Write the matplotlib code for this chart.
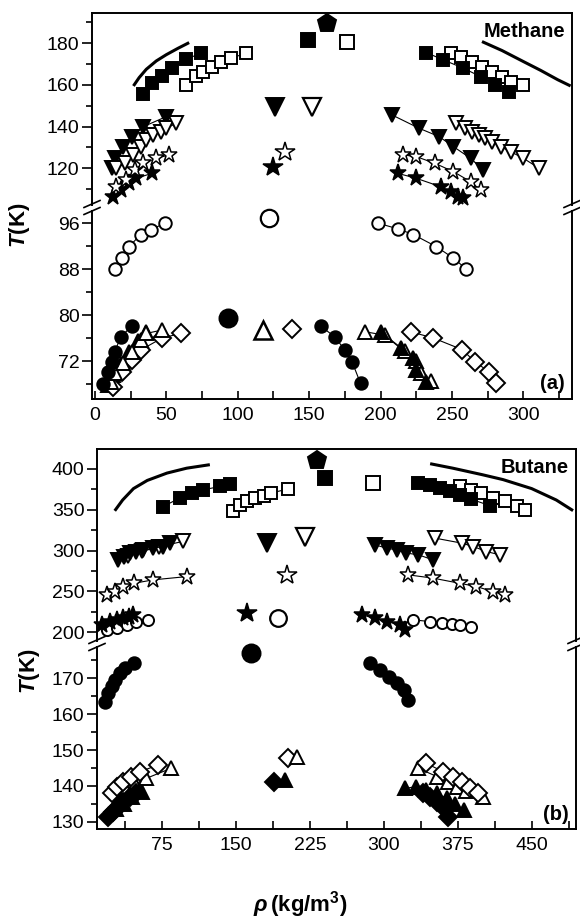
import matplotlib
matplotlib.use("Agg")
import matplotlib.pyplot as plt
from matplotlib.lines import Line2D

plt.rcParams['font.family'] = ['Liberation Sans', 'DejaVu Sans']
plt.rcParams['mathtext.fontset'] = 'custom'
plt.rcParams['mathtext.rm'] = 'Liberation Sans:bold'
plt.rcParams['mathtext.bf'] = 'Liberation Sans:bold'
plt.rcParams['mathtext.it'] = 'Liberation Sans:bold:italic'

# ---------------- Methane, upper part ----------------
ma_curve_L = ([27, 31, 36, 43, 50, 58, 66], [159.5, 163.5, 167.5, 171.5, 174.5, 177.5, 180.3])
ma_curve_R = ([271, 285, 300, 312, 324, 333], [180.8, 176.5, 171.2, 167, 162.5, 159.5])
ma_fsq_L = ([34, 40, 47, 54, 64, 74], [155.7, 160.8, 164.3, 168, 172.3, 175.2])
ma_osq_L = ([64, 71, 76, 82, 88, 95, 106], [160, 164.3, 166.4, 168.8, 171.2, 172.8, 175.2])
ma_fsq_R = ([232, 244, 258, 270, 280, 290], [175.5, 172, 168, 164, 160, 156.8])
ma_osq_R = ([249, 256, 264, 271, 278, 285, 291, 300], [175.2, 173.6, 171.2, 168.8, 166.4, 164, 161.6, 160])
ma_fv_L = ([12, 14, 20, 26, 34, 50], [120, 124.8, 130.4, 135.2, 140, 144.8])
ma_ov_L = ([15, 21, 27, 32, 36, 41, 46, 50, 57], [120, 122.4, 126.4, 130.4, 133.6, 136, 137.6, 139.2, 141.6])
ma_fv_R = ([208, 227, 241, 251, 263, 272], [145.6, 139.2, 135.2, 130.4, 124.8, 119.2])
ma_ov_R = ([253, 259, 264, 269, 273, 278, 284, 291, 300, 311],
           [141.6, 139.2, 137.6, 136, 134.4, 132.8, 130.4, 128, 124.8, 120])
ma_ostar_L = ([15, 22, 28, 34, 43, 52], [111.2, 114.4, 119.2, 122.4, 124.8, 126.4])
ma_fstar_L = ([13, 18, 24, 29, 40], [106.4, 109.6, 112.8, 115.2, 117.6])
ma_ostar_R = ([216, 225, 238, 251, 263, 270], [126.4, 125.6, 122.4, 118.4, 113.6, 109.6])
ma_fstar_R = ([212, 225, 242, 249, 254, 258], [117.6, 115.2, 111.2, 108.8, 106.4, 105.6])
# critical points (methane, upper)
ma_fsq_C = ([149.5], [181.6])
ma_pent_C = ([162.3], [189.6])
ma_osq_C = ([176.4], [180.8])
ma_fv_C = ([126], [149.6])
ma_ov_C = ([152], [149.6])
ma_fstar_C = ([125], [120.8])
ma_ostar_C = ([133], [128])

# ---------------- Methane, lower part ----------------
ma_oc_L = ([14, 19, 24, 32, 39, 49], [88, 89.9, 91.9, 94, 94.8, 96])
ma_oc_R = ([198, 212, 223, 239, 251, 260], [96, 95, 94, 91.9, 89.9, 88])
ma_ft_L = ([9, 13, 18, 24, 30, 36], [67.8, 69.5, 71.5, 73.5, 75.5, 77])
ma_ot_L = ([11, 14, 20, 26, 32, 36, 47], [68.4, 69.9, 71.6, 73.6, 75.7, 76.8, 77.4])
ma_od_L = ([13, 19, 26, 32, 47, 60], [67.5, 70.1, 72.2, 73.9, 76, 76.8])
ma_fc_L = ([6, 9.5, 12, 14, 18, 26], [68, 70.1, 71.9, 73.6, 76.2, 78.1])
ma_fc_R = ([158, 168, 175, 180, 186], [78.1, 76.2, 73.9, 71.9, 68.1])
ma_ot_R = ([189, 203, 217, 225, 228, 235], [77.1, 76.5, 73.8, 72, 70, 68.5])
ma_ft_R = ([200, 214, 223, 225, 232], [77.1, 74.2, 72.5, 70.4, 68.4])
ma_od_R = ([221, 237, 257, 266, 276, 281], [77.1, 76, 74, 71.9, 70.1, 68.1])
ma_oc_C = ([122], [96.9])
ma_fc_C = ([93], [79.5])
ma_ot_C = ([118], [77.4])
ma_od_C = ([138], [77.5])

# ---------------- Butane, upper part ----------------
bu_curve_L = ([27, 35, 46, 60, 80, 100, 123.5], [348.8, 362, 376, 386, 395, 401, 405.3])
bu_curve_R = ([347, 370, 400, 421, 450, 475, 492], [406.5, 401, 393, 387, 376, 362, 349])
bu_fsq_L = ([76, 93, 105, 117, 134, 144], [354, 364.4, 370.6, 374.6, 378.6, 381.6])
bu_osq_L = ([147, 154, 161, 169, 178, 186, 202.5], [348.8, 356.2, 360.2, 364.4, 367.2, 370.6, 375.5])
bu_fsq_R = ([335, 347, 357, 367, 377, 388, 408], [382.8, 380.7, 376.6, 372.5, 368.4, 363.2, 355])
bu_osq_R = ([377, 388, 399, 411, 423, 435, 443], [378.6, 374.6, 370.6, 364.4, 360.2, 354.1, 350])
bu_ov_L = ([40, 55, 72, 96], [293, 299, 305, 311.2])
bu_fv_L = ([30, 36, 42, 49, 56, 66, 76, 83], [288.7, 292.8, 296.9, 298.9, 301, 303, 305, 309.2])
bu_fv_R = ([291, 303, 313, 323, 335, 350], [307.1, 303, 301, 297, 294.9, 288.7])
bu_ov_R = ([352, 379, 391, 404, 418], [315.3, 309.2, 305, 298.9, 294.8])
bu_ostar_L = ([19, 27, 35.5, 47, 66, 100], [245.8, 249.8, 256, 260.1, 264.2, 268.2])
bu_ostar_R = ([325, 350, 377, 394, 411, 423], [270.3, 266.3, 260, 256, 249.8, 245.8])
bu_oc_L = ([19, 29, 39, 49, 61], [203, 205, 209, 213, 215])
bu_fstar_L = ([14, 22, 29, 35.5, 41, 46], [209, 213.1, 215.2, 217.2, 219.3, 221.3])
bu_fstar_R = ([277.5, 291, 303, 316.5, 322], [221.3, 217.2, 213.1, 209, 203])
bu_oc_R = ([330, 347, 359, 369, 377, 388], [215.2, 213.1, 211.1, 210.2, 209, 207])
bu_pent_C = ([232], [411.4])
bu_fsq_C = ([240], [389])
bu_osq_C = ([289], [383])
bu_fv_C = ([181], [309])
bu_ov_C = ([220], [317])
bu_ostar_C = ([202], [270])
bu_fstar_C = ([161], [223])
bu_oc_C = ([193], [217])

# ---------------- Butane, lower part ----------------
bu_fc_L = ([17, 20, 24, 27, 32, 37, 47], [163.5, 165.8, 167.7, 169.5, 171.4, 172.8, 174.2])
bu_fc_R = ([286, 296, 305, 313, 320, 325], [174.2, 172.3, 170.4, 168.6, 166.7, 164])
bu_od_L = ([24, 29, 35.5, 44, 52.5, 71], [137.9, 139.8, 141.2, 142.6, 144, 145.8])
bu_ot_L = ([38, 48, 59, 84], [139, 140.5, 142.1, 144.9])
bu_ft_L = ([28, 36, 45, 55], [133.5, 135, 136.8, 138.3])
bu_fd_L = ([20, 25, 30, 35.5, 42, 49], [131.4, 132.8, 134.2, 135.6, 137, 137.9])
bu_ot_R = ([335, 354, 365.5, 374, 383, 401], [144.9, 142.6, 141.2, 139.8, 138.5, 137])
bu_od_R = ([343, 360, 370, 379, 387.5, 396], [146.3, 144, 142.6, 141.2, 139.4, 138])
bu_ft_R = ([321, 333, 343, 354, 364, 372, 381], [139.3, 139.8, 138.8, 137.9, 136.5, 135.1, 133.3])
bu_fd_R = ([340, 347, 354, 360, 365], [137.9, 137, 135.6, 134.2, 131.4])
bu_fc_C = ([165], [177.1])
bu_fd_C = ([189], [141.2])
bu_ft_C = ([199.5], [141.6])
bu_od_C = ([203], [147.7])
bu_ot_C = ([212], [148])

W, H = 580, 924
fig = plt.figure(figsize=(W / 100, H / 100), dpi=100)


def box(l, t, r, b):
    return [l / W, 1 - b / H, (r - l) / W, (b - t) / H]


a_top = fig.add_axes(box(92, 13, 572, 205))
a_bot = fig.add_axes(box(92, 211, 572, 399))
b_top = fig.add_axes(box(97, 449, 576, 641))
b_bot = fig.add_axes(box(97, 647, 576, 829))

SQ, TRI, STAR, CIR, DIA = 8.5, 10, 12.5, 9, 9.5


def pts(ax, s, m, filled, ms=SQ, line=True, mew=1.4):
    ax.plot(s[0], s[1], marker=m, ms=ms, mfc='black' if filled else 'white',
            mec='black', mew=mew, color='black', lw=0.8,
            ls='-' if line else 'none', clip_on=False)


def curve(ax, s):
    ax.plot(s[0], s[1], color='black', lw=2.2, solid_capstyle='butt')


# methane upper
curve(a_top, ma_curve_L)
curve(a_top, ma_curve_R)
pts(a_top, ma_osq_L, 's', False)
pts(a_top, ma_fsq_L, 's', True)
pts(a_top, ma_osq_R, 's', False)
pts(a_top, ma_fsq_R, 's', True)
pts(a_top, ma_fv_L, 'v', True, ms=TRI)
pts(a_top, ma_ov_L, 'v', False, ms=TRI)
pts(a_top, ma_ov_R, 'v', False, ms=TRI)
pts(a_top, ma_fv_R, 'v', True, ms=TRI)
pts(a_top, ma_fstar_L, '*', True, ms=STAR, mew=1.1)
pts(a_top, ma_ostar_L, '*', False, ms=STAR, mew=1.1)
pts(a_top, ma_fstar_R, '*', True, ms=STAR, mew=1.1)
pts(a_top, ma_ostar_R, '*', False, ms=STAR, mew=1.1)
pts(a_top, ma_fsq_C, 's', True, ms=9.5, line=False)
pts(a_top, ma_pent_C, 'p', True, ms=13.5, line=False)
pts(a_top, ma_osq_C, 's', False, ms=10, line=False)
pts(a_top, ma_fv_C, 'v', True, ms=13, line=False)
pts(a_top, ma_ov_C, 'v', False, ms=13, line=False, mew=1.6)
pts(a_top, ma_fstar_C, '*', True, ms=15, line=False, mew=1.1)
pts(a_top, ma_ostar_C, '*', False, ms=15, line=False, mew=1.1)

# methane lower
pts(a_bot, ma_oc_L, 'o', False, ms=CIR)
pts(a_bot, ma_oc_R, 'o', False, ms=CIR)
pts(a_bot, ma_ft_L, '^', True, ms=TRI)
pts(a_bot, ma_od_L, 'D', False, ms=DIA)
pts(a_bot, ma_ot_L, '^', False, ms=TRI)
pts(a_bot, ma_fc_L, 'o', True, ms=CIR)
pts(a_bot, ma_fc_R, 'o', True, ms=CIR)
pts(a_bot, ma_ot_R, '^', False, ms=TRI)
pts(a_bot, ma_ft_R, '^', True, ms=TRI)
pts(a_bot, ma_od_R, 'D', False, ms=DIA)
pts(a_bot, ma_oc_C, 'o', False, ms=12.5, line=False, mew=1.6)
pts(a_bot, ma_fc_C, 'o', True, ms=13, line=False)
pts(a_bot, ma_ot_C, '^', False, ms=13, line=False, mew=1.8)
pts(a_bot, ma_od_C, 'D', False, ms=DIA, line=False)

# butane upper
curve(b_top, bu_curve_L)
curve(b_top, bu_curve_R)
pts(b_top, bu_fsq_L, 's', True)
pts(b_top, bu_osq_L, 's', False)
pts(b_top, bu_osq_R, 's', False)
pts(b_top, bu_fsq_R, 's', True)
pts(b_top, bu_ov_L, 'v', False, ms=TRI)
pts(b_top, bu_fv_L, 'v', True, ms=TRI)
pts(b_top, bu_fv_R, 'v', True, ms=TRI)
pts(b_top, bu_ov_R, 'v', False, ms=TRI)
pts(b_top, bu_ostar_L, '*', False, ms=STAR, mew=1.1)
pts(b_top, bu_ostar_R, '*', False, ms=STAR, mew=1.1)
pts(b_top, bu_oc_L, 'o', False, ms=8)
pts(b_top, bu_fstar_L, '*', True, ms=STAR, mew=1.1)
pts(b_top, bu_oc_R, 'o', False, ms=8)
pts(b_top, bu_fstar_R, '*', True, ms=STAR, mew=1.1)
pts(b_top, bu_pent_C, 'p', True, ms=13.5, line=False)
pts(b_top, bu_fsq_C, 's', True, ms=9.5, line=False)
pts(b_top, bu_osq_C, 's', False, ms=10, line=False)
pts(b_top, bu_fv_C, 'v', True, ms=13, line=False)
pts(b_top, bu_ov_C, 'v', False, ms=13, line=False, mew=1.6)
pts(b_top, bu_ostar_C, '*', False, ms=15, line=False, mew=1.1)
pts(b_top, bu_fstar_C, '*', True, ms=15, line=False, mew=1.1)
pts(b_top, bu_oc_C, 'o', False, ms=12, line=False, mew=1.6)

# butane lower
pts(b_bot, bu_fc_L, 'o', True, ms=CIR)
pts(b_bot, bu_fc_R, 'o', True, ms=CIR)
pts(b_bot, bu_ot_L, '^', False, ms=TRI)
pts(b_bot, bu_od_L, 'D', False, ms=DIA)
pts(b_bot, bu_ft_L, '^', True, ms=TRI)
pts(b_bot, bu_fd_L, 'D', True, ms=DIA)
pts(b_bot, bu_ot_R, '^', False, ms=TRI)
pts(b_bot, bu_od_R, 'D', False, ms=DIA)
pts(b_bot, bu_ft_R, '^', True, ms=TRI)
pts(b_bot, bu_fd_R, 'D', True, ms=DIA)
pts(b_bot, bu_fc_C, 'o', True, ms=13, line=False)
pts(b_bot, bu_fd_C, 'D', True, ms=DIA, line=False)
pts(b_bot, bu_ft_C, '^', True, ms=TRI, line=False)
pts(b_bot, bu_od_C, 'D', False, ms=DIA, line=False)
pts(b_bot, bu_ot_C, '^', False, ms=TRI, line=False)

# axes limits and ticks
a_top.set_ylim(102.4, 194.5)
a_bot.set_ylim(65.4, 98.1)
b_top.set_ylim(189.3, 424.5)
b_bot.set_ylim(128.0, 178.7)
for ax in (a_top, a_bot):
    ax.set_xlim(-2, 334)
for ax in (b_top, b_bot):
    ax.set_xlim(9, 495)

a_top.set_yticks([120, 140, 160, 180])
a_top.set_yticks(range(110, 195, 20), minor=True)
a_bot.set_yticks([72, 80, 88, 96])
a_bot.set_yticks([68, 76, 84, 92], minor=True)
b_top.set_yticks([200, 250, 300, 350, 400])
b_top.set_yticks([225, 275, 325, 375], minor=True)
b_bot.set_yticks([130, 140, 150, 160, 170])
b_bot.set_yticks([135, 145, 155, 165, 175], minor=True)
a_bot.set_xticks(range(0, 301, 50))
a_bot.set_xticks(range(25, 334, 50), minor=True)
b_bot.set_xticks([75, 150, 225, 300, 375, 450])
b_bot.set_xticks([37.5, 112.5, 187.5, 262.5, 337.5, 412.5, 487.5], minor=True)

for ax in (a_top, b_top):
    ax.spines['bottom'].set_visible(False)
    ax.tick_params(axis='x', which='both', bottom=False, labelbottom=False)
for ax in (a_bot, b_bot):
    ax.spines['top'].set_visible(False)
    ax.tick_params(axis='x', which='major', direction='in', length=6, width=1.2,
                   labelsize=14, pad=6)
    ax.tick_params(axis='x', which='minor', direction='in', length=6, width=1.2)
for ax in (a_top, a_bot, b_top, b_bot):
    for sp in ax.spines.values():
        sp.set_linewidth(1.4)
    ax.tick_params(axis='y', which='major', direction='out', length=7, width=1.2,
                   labelsize=14, pad=2)
    ax.tick_params(axis='y', which='minor', direction='out', length=4, width=1.2)
    ax.set_facecolor('none')

# axis break marks


def slash(x, y):
    fig.add_artist(Line2D([(x - 8) / W, (x + 8) / W], [1 - (y + 3.5) / H, 1 - (y - 3.5) / H],
                          color='black', lw=1.2))


for x in (92, 572):
    slash(x, 204)
    slash(x, 211)
for x in (97, 576):
    slash(x, 640)
    slash(x, 647)

a_top.text(0.985, 0.955, 'Methane', transform=a_top.transAxes, ha='right', va='top',
           fontsize=14.5, fontweight='bold')
b_top.text(0.985, 0.955, 'Butane', transform=b_top.transAxes, ha='right', va='top',
           fontsize=14.5, fontweight='bold')
a_bot.text(0.985, 0.03, '(a)', transform=a_bot.transAxes, ha='right', va='bottom',
           fontsize=14.5, fontweight='bold')
b_bot.text(0.985, 0.03, '(b)', transform=b_bot.transAxes, ha='right', va='bottom',
           fontsize=14.5, fontweight='bold')

fig.text(19 / W, 1 - 225 / H, r'$\mathit{T}$(K)', rotation=90, ha='center', va='center',
         fontsize=16, fontweight='bold')
fig.text(30 / W, 1 - 671 / H, r'$\mathit{T}$(K)', rotation=90, ha='center', va='center',
         fontsize=16, fontweight='bold')
fig.text(300 / W, 1 - 905 / H, r'$\mathit{\rho}\,$(kg/m$^{3}$)', ha='center', va='center',
         fontsize=16, fontweight='bold')

fig.savefig('out.png', dpi=100)
